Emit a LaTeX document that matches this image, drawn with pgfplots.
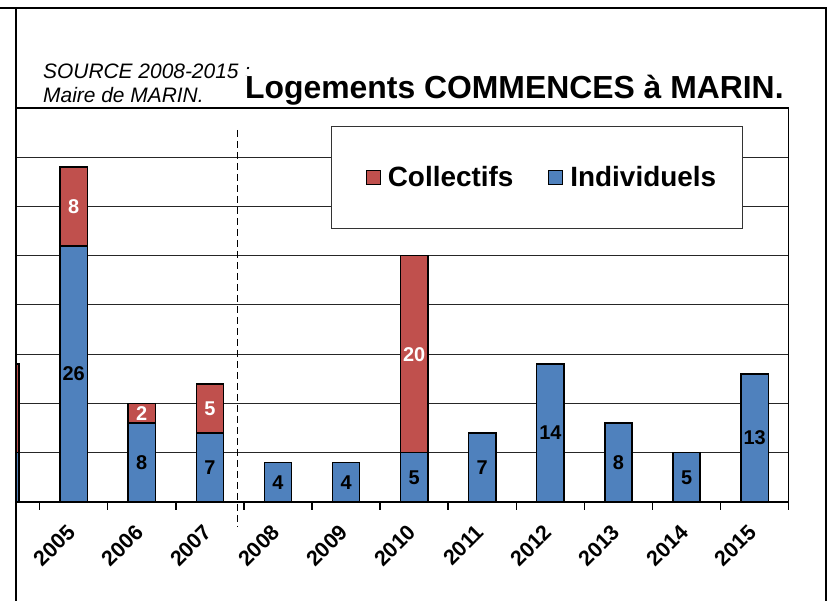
\documentclass[border=0pt]{standalone}
\usepackage{fontspec}
\setmainfont{Liberation Sans}
\usepackage{pgfplots}
\pgfplotsset{compat=1.18}
\usepackage{pgfplotstable}
\definecolor{indblue}{HTML}{4F81BD}
\definecolor{colred}{HTML}{C0504D}

\pgfplotstableread{
x ind coll indlab colllab
-1 5 9 {} {}
0 26 8 26 8
1 8 2 8 2
2 7 5 7 5
3 4 0 4 {}
4 4 0 4 {}
5 5 20 5 20
6 7 0 7 {}
7 14 0 14 {}
8 8 0 8 {}
9 5 0 5 {}
10 13 0 13 {}
}\datatable

\begin{document}
\begin{tikzpicture}
\useasboundingbox (0bp,0bp) rectangle (827bp,601bp);
\node[anchor=base west, font=\fontsize{21}{24}\selectfont\itshape, inner sep=0pt] at (43bp,522bp) {SOURCE 2008-2015 :};
\node[anchor=base west, font=\fontsize{21}{24}\selectfont\itshape, inner sep=0pt] at (43bp,498bp) {Maire de MARIN.};
\node[anchor=base west, font=\fontsize{32}{38}\selectfont\bfseries, inner sep=0pt, fill=white] at (245bp,502bp) {Logements COMMENCES à MARIN.};
\begin{axis}[
  at={(16bp,99bp)}, anchor=south west,
  width=772.7bp, height=394bp, scale only axis,
  xmin=-0.847, xmax=10.5, ymin=0, ymax=40,
  ybar stacked, bar width=0.4,
  axis line style={line width=1.5bp, black},
  xtick={-0.5,0.5,...,10.5},
  xticklabels={},
  major tick length=8bp, tick align=outside, tick style={line width=1.5bp, black},
  xtick pos=bottom, ytick pos=left,
  ytick={5,10,...,35}, yticklabels={}, ymajorgrids, xmajorgrids=false,
  ytick style={draw=none},
  grid style={line width=1bp, black!85},
  nodes near coords, point meta=explicit symbolic,
  every node near coord/.append style={font=\fontsize{20}{24}\selectfont\bfseries, anchor=center},
  legend style={at={(0.6807,0.8236)}, anchor=center, draw=none, fill=none,
    font=\fontsize{28}{32}\selectfont\bfseries, inner sep=0pt,
    /tikz/every odd column/.append style={column sep=5bp},
    /tikz/every even column/.append style={column sep=33bp}},
  legend columns=2, legend cell align=left, reverse legend,
  legend image code/.code={\draw[#1, line width=1bp] (0bp,-7bp) rectangle (14bp,7bp);},
]
\addplot[fill=indblue, draw=black, line width=1.5bp,
  every node near coord/.append style={text=black}]
  table[x=x, y=ind, meta=indlab] {\datatable};
\addlegendentry{Individuels}
\addplot[fill=colred, draw=black, line width=1.5bp,
  every node near coord/.append style={text=white}]
  table[x=x, y=coll, meta=colllab] {\datatable};
\addlegendentry{Collectifs}
\draw[draw=black!80, line width=1bp, fill=white] (rel axis cs:0.4086,0.6947) rectangle (rel axis cs:0.9405,0.9525);
\end{axis}
\foreach \i/\yr in {0/2005,1/2006,2/2007,3/2008,4/2009,5/2010,6/2011,7/2012,8/2013,9/2014,10/2015}{
  \node[rotate=45, anchor=north east, inner sep=0pt, font=\fontsize{21.5}{24}\selectfont\bfseries]
    at ({(66+68.1*\i)*1bp}, 78bp) {\yr};
}
\draw[line width=1.6bp, dash pattern=on 7bp off 4bp] (237.5bp,471bp) -- (237.5bp,74bp);
\draw[line width=1.5bp] (0bp,593bp) -- (826bp,593bp) -- (826bp,0bp);
\draw[line width=1.5bp] (16bp,593bp) -- (16bp,0bp);
\end{tikzpicture}
\end{document}
